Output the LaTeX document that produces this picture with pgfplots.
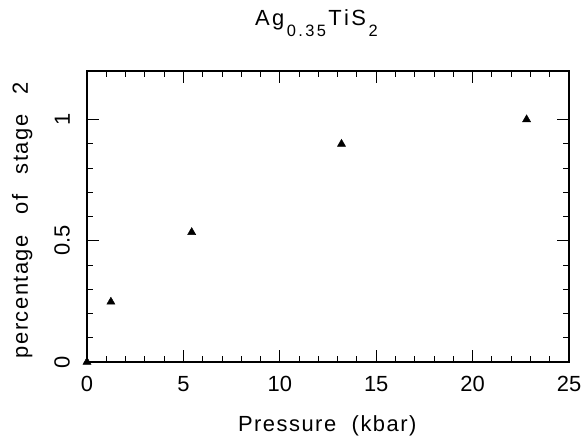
\documentclass[border=0pt]{standalone}
\usepackage{fontspec}
\setmainfont{Liberation Sans}
\usepackage{pgfplots}
\pgfplotsset{compat=1.18}
\newcommand{\lblfont}{\fontsize{22}{26}\selectfont}
% letter-spaced text: #1 kern after each letter, #2 gap between words
\ExplSyntaxOn
\NewDocumentCommand \spaced { m m m }
  {
    \seq_set_split:Nnn \l_tmpa_seq { ~ } { #3 }
    \seq_map_indexed_inline:Nn \l_tmpa_seq
      {
        \int_compare:nNnT { ##1 } > { 1 } { \hspace* { #2 } }
        \tl_map_inline:nn { ##2 } { ####1 \kern #1 \relax }
      }
  }
\ExplSyntaxOff
\newcommand{\sub}[1]{\raisebox{-11bp}{\fontsize{16.5}{17}\selectfont #1}}
\begin{document}
\begin{tikzpicture}
\begin{axis}[
  scale only axis, width=482bp, height=291bp,
  xmin=0, xmax=25, ymin=0, ymax=1.2,
  xtick={0,5,...,25}, minor x tick num=4,
  ytick={0,0.5,1}, minor y tick num=4,
  tick align=inside, major tick length=12bp, minor tick length=6bp,
  axis line style={line width=1.1bp},
  every tick/.style={black, line width=0.9bp},
  /pgf/number format/assume math mode=true,
  tick label style={font=\lblfont, inner sep=0pt},
  xticklabel shift=14bp,
  yticklabel style={rotate=90, anchor=south},
  yticklabel shift=17bp,
  xlabel={\spaced{1.5bp}{14bp}{Pressure (kbar)}},
  ylabel={\spaced{1.5bp}{19bp}{percentage of stage 2}},
  label style={font=\lblfont, inner sep=0pt},
  xlabel style={at={(axis description cs:0.5,-0.2405)}, anchor=base},
  ylabel style={at={(axis description cs:-0.1224,0.49)}, anchor=base, rotate=0},
  title={\spaced{2.4bp}{0pt}{Ag}\sub{\spaced{2.4bp}{0pt}{0.35}}\spaced{2.4bp}{0pt}{TiS}\sub{2}},
  title style={font=\lblfont, inner sep=0pt,
    at={(axis description cs:0.476,1.1375)}, anchor=base},
]
\addplot[only marks, mark=triangle*, mark size=4.7bp, black]
  coordinates {
    (0,0)
    (1.24,0.248)
    (5.43,0.535)
    (13.2,0.899)
    (22.8,1.0)
  };
\end{axis}
\path ([shift={(-87bp,-81bp)}]current axis.south west)
  rectangle ([shift={(19bp,71bp)}]current axis.north east);
\end{tikzpicture}
\end{document}
